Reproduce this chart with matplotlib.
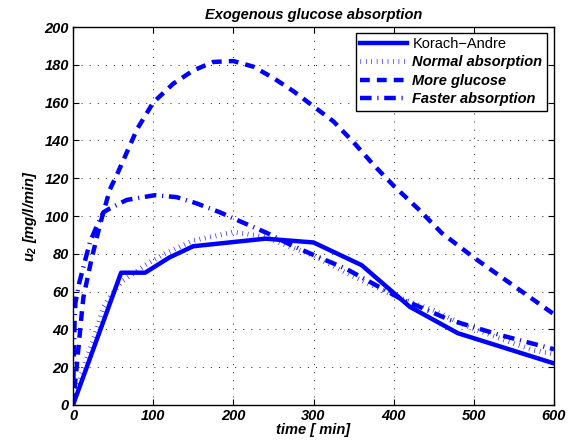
import numpy as np
import matplotlib
matplotlib.use('Agg')
import matplotlib.pyplot as plt

# Korach-Andre measured data
t_ka = [0, 60, 90, 120, 150, 240, 300, 360, 420, 480, 540, 600]
u_ka = [0, 70, 70, 78, 84, 88, 86, 74, 52, 38, 30, 22]

# normal absorption model
t_norm = [0, 13, 25, 38, 46, 60, 90, 114, 150, 200, 240, 275, 300, 345, 400, 450,
          490, 540, 574, 600]
u_norm = [0, 20, 34, 52, 57, 65, 74, 80, 87, 91.5, 89, 83, 79, 69, 58, 50,
          42, 34, 29, 27]

# more glucose
t_more = [0, 5, 11, 13, 23, 34, 46, 56, 80, 100, 125, 150, 175, 200, 225, 250,
          275, 300, 325, 350, 375, 400, 430, 460, 500, 550, 600]
u_more = [0, 22, 49, 57, 77, 96, 114, 123, 146, 160, 170, 177, 181.5, 182, 179, 173,
          166, 158, 150, 139, 127, 116, 104, 91, 78, 63, 48]

# faster absorption
t_fast = [0, 1, 2, 3, 8, 21, 30, 38, 46, 67, 102, 129, 154, 183, 204, 242, 275,
          300, 341, 358, 408, 470, 533, 600]
u_fast = [0, 25, 45, 54, 65, 86, 95, 102, 104, 108.5, 111, 110, 106.7, 102, 98, 91, 84,
          79.4, 72, 68, 56.4, 45, 37, 29.5]

plt.rcParams['font.family'] = ['Liberation Sans', 'DejaVu Sans']
plt.rcParams['mathtext.fontset'] = 'custom'
plt.rcParams['mathtext.it'] = 'Liberation Sans:bold:italic'
plt.rcParams['mathtext.rm'] = 'Liberation Sans:bold:italic'
plt.rcParams['mathtext.bf'] = 'Liberation Sans:bold:italic'

fig = plt.figure(figsize=(5.71, 4.48), dpi=100)
ax = fig.add_axes([73 / 571, 1 - 405 / 448, 481 / 571, 378 / 448])

blue = (0, 0, 1)
ax.plot(t_ka, u_ka, color=blue, lw=3.2, label='Korach\u2212Andre')
ax.plot(t_norm, u_norm, color=blue, lw=3.5, dashes=(0.12, 1.0),
        dash_capstyle='butt', label='Normal absorption')
ax.plot(t_more, u_more, color=blue, lw=3.2, dashes=(2.2, 1.6),
        dash_capstyle='butt', label='More glucose')
ax.plot(t_fast, u_fast, color=blue, lw=3.2, dashes=(2.6, 1.3, 0.25, 1.3),
        dash_capstyle='butt', label='Faster absorption')

ax.set_xlim(0, 600)
ax.set_ylim(0, 200)
ax.set_xticks(np.arange(0, 601, 100))
ax.set_yticks(np.arange(0, 201, 20))
ax.grid(True, color='black', linestyle=(0, (1.2, 8.5)), linewidth=0.6)
ax.tick_params(direction='in', top=True, right=True, length=4, width=0.8, pad=3)
for s in ax.spines.values():
    s.set_linewidth(1.0)

tickfont = dict(fontsize=10.5, fontweight='bold', fontstyle='italic')
for lab in ax.get_xticklabels() + ax.get_yticklabels():
    lab.set_fontsize(10.5)
    lab.set_fontweight('bold')
    lab.set_fontstyle('italic')

ax.set_title('Exogenous glucose absorption', fontsize=10.5, fontweight='bold',
             fontstyle='italic', pad=6)
ax.set_xlabel('time [ min]', labelpad=0, **tickfont)
ax.set_ylabel(r'$u_2$ [mg/l/min]', labelpad=4, **tickfont)

leg = ax.legend(loc='upper right', bbox_to_anchor=(0.985, 0.985), fontsize=10.5,
                frameon=True, fancybox=False, edgecolor='black', framealpha=1,
                handlelength=3.2, handletextpad=0.4, borderpad=0.3,
                labelspacing=0.3, borderaxespad=0)
leg.get_frame().set_linewidth(1.0)
for i, txt in enumerate(leg.get_texts()):
    if i > 0:
        txt.set_fontweight('bold')
        txt.set_fontstyle('italic')

fig.savefig('out.png', dpi=100)
